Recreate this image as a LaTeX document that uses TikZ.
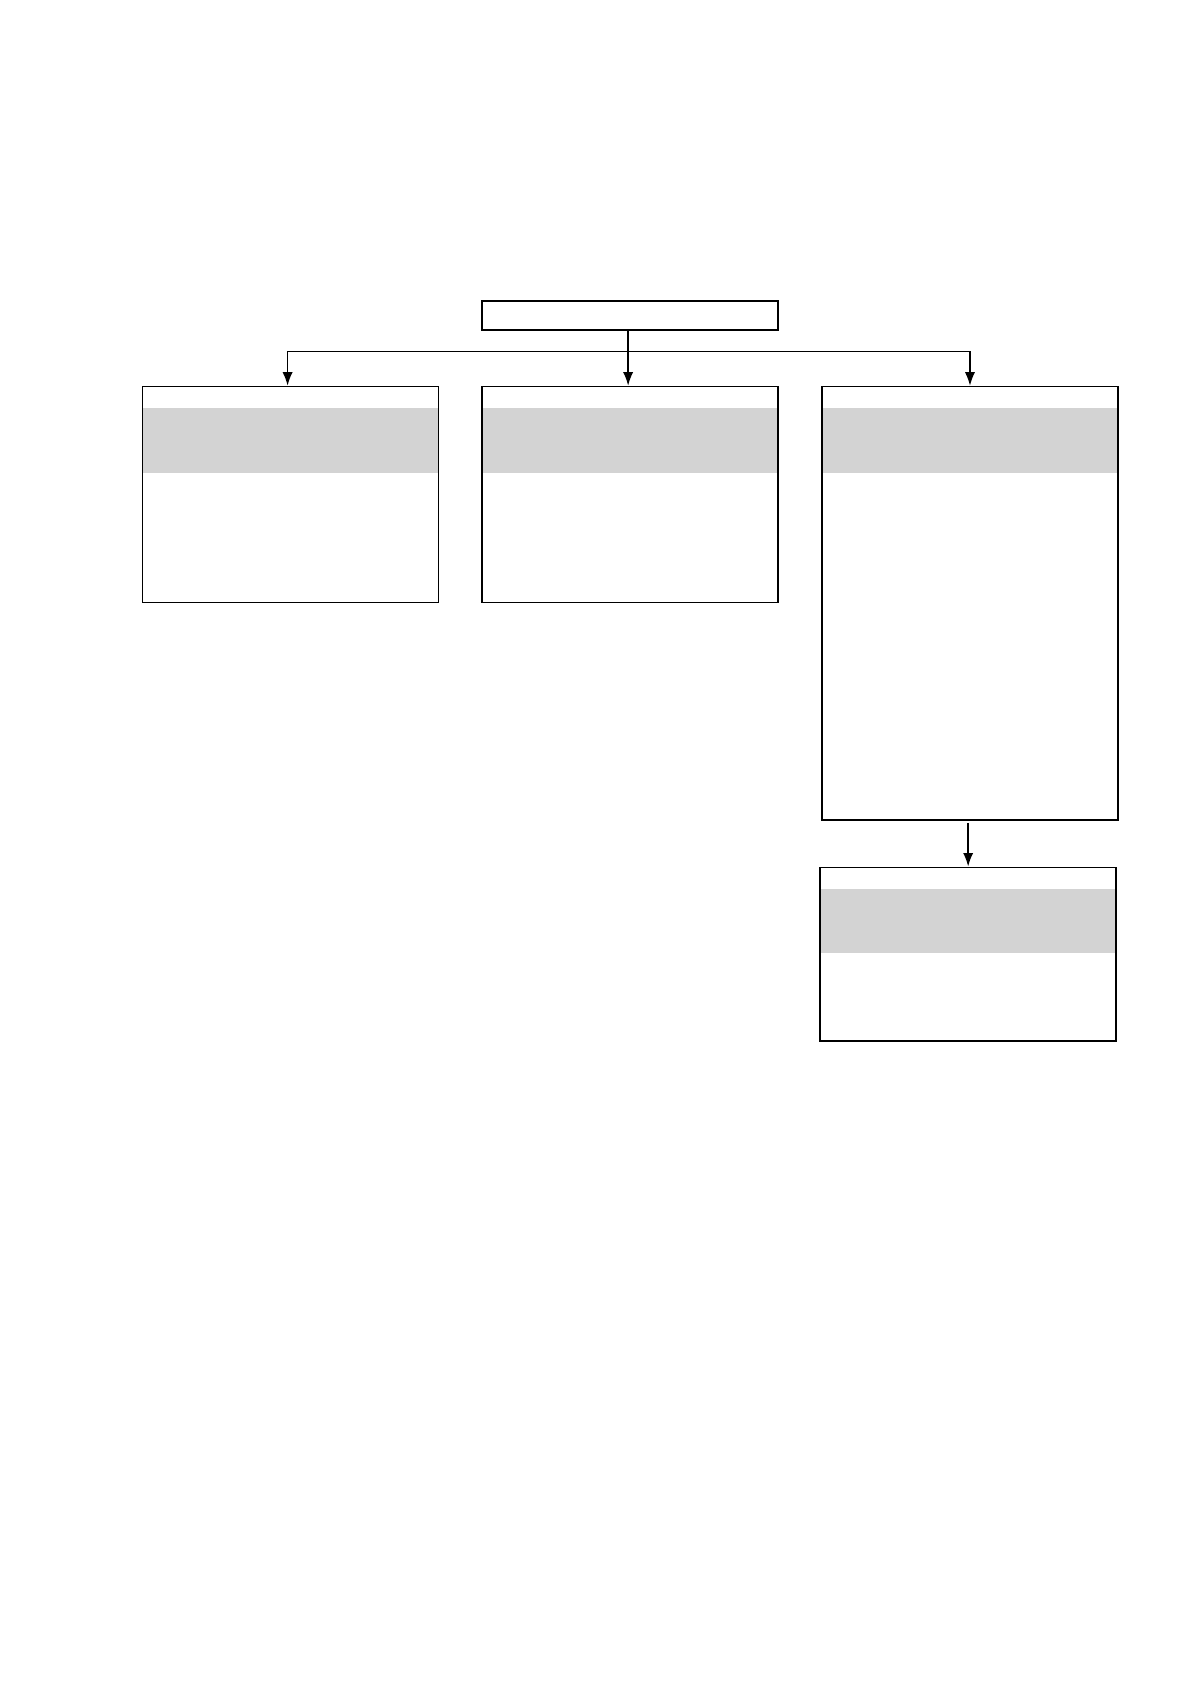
\documentclass[tikz,border=0pt]{standalone}
\usepackage{xcolor}
\usepackage{tikz}
\usetikzlibrary{calc, arrows.meta, positioning}

\definecolor{boxgray}{RGB}{211,211,211}

\begin{document}
\begin{tikzpicture}[auto, >=Latex, line width=0.85pt]
		\tikzstyle{small} = [draw=black, rectangle, inner sep=0pt, minimum width=5.22cm, minimum height=0.51cm]
		\tikzstyle{panel} = [draw=black, rectangle, inner sep=0pt, minimum width=5.22cm,
			path picture={\fill[boxgray] ([yshift=-0.376cm]path picture bounding box.north west) rectangle ([yshift=-1.516cm]path picture bounding box.north east);}]
		\tikzstyle{arrow} = [->]
		
		\useasboundingbox (0, 0) rectangle (21, -29.7);
		
		\node[small]	at (11.108, -5.563)	(b0)	{};
		
		\node[panel, minimum height=3.809cm]	at (5.122, -8.723)	(b1)	{};
		\node[panel, minimum height=3.809cm]	at (11.108, -8.723)	(b2)	{};
		\node[panel, minimum height=7.640cm]	at (17.107, -10.639)	(b3)	{};
		
		\node[panel, minimum height=3.056cm]	at (17.075, -16.827)	(b4)	{};
		
		\coordinate (bus) at (0, -6.201);
		
		\draw [arrow] ([xshift=-0.03cm]b0.south) -- ([xshift=-0.03cm]b0.south |- bus) -| ([xshift=-0.05cm]b1.north);
		\draw [arrow] ([xshift=-0.03cm]b0.south) -- ([xshift=-0.03cm]b2.north);
		\draw [arrow] ([xshift=-0.03cm]b0.south |- bus) -| (b3.north);
		
		\draw [arrow] ([yshift=-0.04cm]b3.south -| b4.north) -- (b4.north);
	\end{tikzpicture}
\end{document}
